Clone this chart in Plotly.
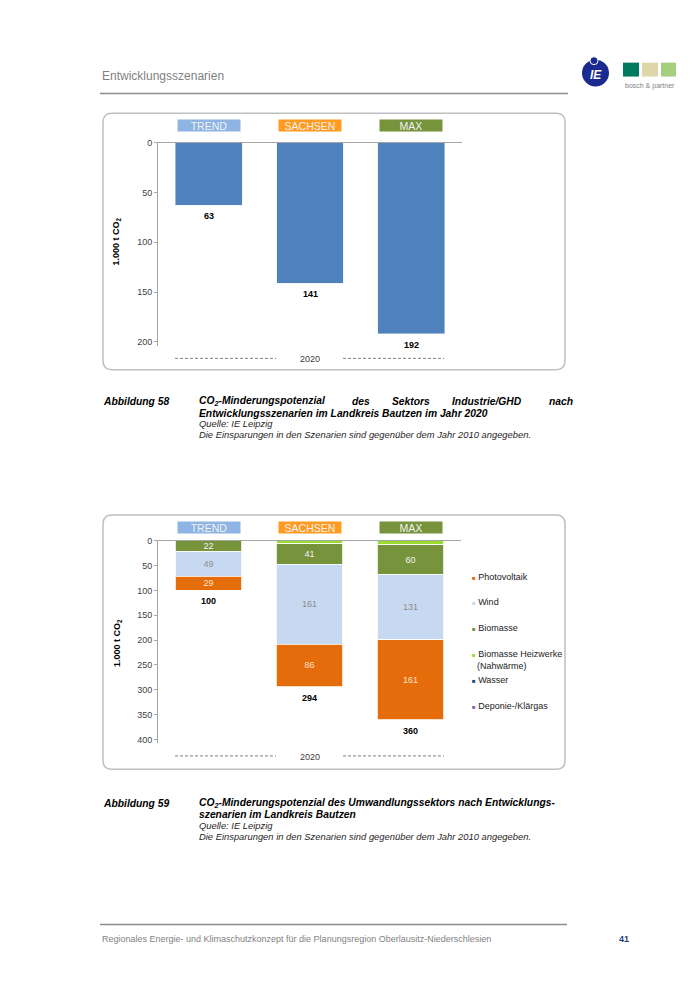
import plotly.graph_objects as go

W, H = 700, 988
FONT = "Liberation Sans"

# ---------------- data ----------------
scenarios = ["TREND", "SACHSEN", "MAX"]
scenario_colors = ["#8DB4E2", "#FF9B21", "#77933C"]
year_label = "2020"

# Chart 1: Industrie/GHD
industrie_values = [63, 141, 192]
chart1_ticks = [0, 50, 100, 150, 200]

# Chart 2: Umwandlungssektor (stack order from 0 downwards)
series_names = ["Deponie-/Klärgas", "Wasser", "Biomasse Heizwerke<br>(Nahwärme)",
                "Biomasse", "Wind", "Photovoltaik"]
series_values = {
    "Deponie-/Klärgas": [0, 0, 0],
    "Wasser": [0, 0, 0],
    "Biomasse Heizwerke<br>(Nahwärme)": [0, 6, 8],
    "Biomasse": [22, 41, 60],
    "Wind": [49, 161, 131],
    "Photovoltaik": [29, 86, 161],
}
series_colors = {
    "Deponie-/Klärgas": "#8064A2",
    "Wasser": "#1F497D",
    "Biomasse Heizwerke<br>(Nahwärme)": "#9BDB2E",
    "Biomasse": "#77933C",
    "Wind": "#C6D9F1",
    "Photovoltaik": "#E46C0A",
}
series_textcolor = {
    "Biomasse": "#F2F2F2",
    "Wind": "#8C8C8C",
    "Photovoltaik": "#FBE3CC",
}
umwandlung_totals = [100, 294, 360]
chart2_ticks = [0, 50, 100, 150, 200, 250, 300, 350, 400]


def px(x):
    return x / W


def py(y):
    return 1 - y / H


fig = go.Figure()

# ---- chart 1 bars
fig.add_trace(go.Bar(x=scenarios, y=industrie_values, marker_color="#4F81BD",
                     width=0.66, showlegend=False, xaxis="x", yaxis="y",
                     hoverinfo="skip"))

# ---- chart 2 stacked bars
for name in series_names:
    vals = series_values[name]
    tc = series_textcolor.get(name)
    if tc:
        kw = dict(text=[str(v) for v in vals], textposition="inside",
                  insidetextanchor="middle",
                  textfont=dict(color=tc, size=9, family=FONT),
                  constraintext="none")
    else:
        kw = dict(textposition="none")
    fig.add_trace(go.Bar(
        x=scenarios, y=vals, name=name, marker_color=series_colors[name],
        marker_line=dict(color="white", width=0.8),
        width=0.66, showlegend=False, xaxis="x2", yaxis="y2",
        hoverinfo="skip", **kw))

axis_line = "#A6A6A6"
tickfont = dict(family=FONT, size=9, color="#404040")

fig.update_layout(
    width=W, height=H, margin=dict(l=0, r=0, t=0, b=0),
    paper_bgcolor="white", plot_bgcolor="rgba(0,0,0,0)",
    barmode="stack", font=dict(family=FONT),
    xaxis=dict(domain=[px(158), px(462)], anchor="y", side="top",
               showticklabels=False, showline=True, linecolor=axis_line,
               ticks="", showgrid=False, range=[-0.5, 2.5],
               categoryorder="array", categoryarray=scenarios),
    yaxis=dict(domain=[py(343), py(138.5)], anchor="x", range=[204, 0],
               tickvals=chart1_ticks, ticks="outside", ticklen=3,
               tickcolor=axis_line, showline=True, linecolor=axis_line,
               showgrid=False, zeroline=False, tickfont=tickfont),
    xaxis2=dict(domain=[px(158), px(461)], anchor="y2", side="top",
                showticklabels=False, showline=True, linecolor=axis_line,
                ticks="", showgrid=False, range=[-0.5, 2.5],
                categoryorder="array", categoryarray=scenarios),
    yaxis2=dict(domain=[py(743), py(539)], anchor="x2", range=[408, 0],
                tickvals=chart2_ticks, ticks="outside", ticklen=3,
                tickcolor=axis_line, showline=True, linecolor=axis_line,
                showgrid=False, zeroline=False, tickfont=tickfont),
)

ann = []
shapes = []


def text(x, y, s, size=10, color="#000", anchor="left", yanchor="middle", **kw):
    ann.append(dict(x=px(x), y=py(y), xref="paper", yref="paper", text=s,
                    showarrow=False, xanchor=anchor, yanchor=yanchor,
                    font=dict(family=FONT, size=size, color=color), **kw))


def rounded_box(x0, y0, x1, y1, r=9, color="#BFBFBF"):
    X0, X1 = px(x0), px(x1)
    Y0, Y1 = py(y0), py(y1)
    rx, ry = r / W, r / H
    path = (f"M{X0+rx},{Y0} L{X1-rx},{Y0} Q{X1},{Y0} {X1},{Y0-ry} "
            f"L{X1},{Y1+ry} Q{X1},{Y1} {X1-rx},{Y1} L{X0+rx},{Y1} "
            f"Q{X0},{Y1} {X0},{Y1+ry} L{X0},{Y0-ry} Q{X0},{Y0} {X0+rx},{Y0} Z")
    shapes.append(dict(type="path", path=path, xref="paper", yref="paper",
                       line=dict(color=color, width=1.5), layer="below"))


def hline(x0, x1, y, color, width=1, dash=None):
    shapes.append(dict(type="line", x0=px(x0), x1=px(x1), y0=py(y), y1=py(y),
                       xref="paper", yref="paper",
                       line=dict(color=color, width=width, dash=dash)))


# ---- page header
text(100, 71, "Entwicklungsszenarien", size=12, color="#7F7F7F")
hline(100, 568, 89, "#8C8C8C", width=1.5)
# IE logo
shapes.append(dict(type="circle", xref="paper", yref="paper",
                   x0=px(583), x1=px(608), y0=py(56), y1=py(81),
                   fillcolor="#1B2A8F", line=dict(color="#1B2A8F")))
shapes.append(dict(type="circle", xref="paper", yref="paper",
                   x0=px(590), x1=px(598), y0=py(52), y1=py(60),
                   fillcolor="#1B2A8F", line=dict(color="white", width=1)))
text(595.5, 70, "<b><i>IE</i></b>", size=12, color="white", anchor="center")
# bosch & partner
for (x0, x1, c) in [(623, 639, "#007A5E"), (642, 658, "#DDD6A8"), (661, 676, "#A4CF7E")]:
    shapes.append(dict(type="rect", xref="paper", yref="paper",
                       x0=px(x0), x1=px(x1), y0=py(58), y1=py(72),
                       fillcolor=c, line=dict(width=0)))
text(623, 81, "bosch &amp; partner", size=7, color="#7F7F7F")

# ---- chart boxes
rounded_box(103, 109, 565, 367)
rounded_box(103, 513, 565, 769)

# ---- scenario headers
for xr, ypos in [("x", 121), ("x2", 525.5)]:
    for s, c in zip(scenarios, scenario_colors):
        ann.append(dict(x=s, y=py(ypos), xref=xr, yref="paper", text=s,
                        showarrow=False, bgcolor=c, width=62, height=11,
                        font=dict(family=FONT, size=10.5, color="#F2F2F2"),
                        xanchor="center", yanchor="middle", borderpad=0))

# ---- totals under bars
for s, v in zip(scenarios, industrie_values):
    ann.append(dict(x=s, y=v, xref="x", yref="y", text=f"<b>{v}</b>",
                    showarrow=False, yanchor="middle", yshift=-11,
                    font=dict(family=FONT, size=9, color="#000")))
for s, v in zip(scenarios, umwandlung_totals):
    ann.append(dict(x=s, y=v, xref="x2", yref="y2", text=f"<b>{v}</b>",
                    showarrow=False, yanchor="middle", yshift=-11,
                    font=dict(family=FONT, size=9, color="#000")))

# ---- y titles
for ytitle in [238, 642]:
    ann.append(dict(x=px(117), y=py(ytitle), xref="paper", yref="paper",
                    text="<b>1.000 t CO<sub>2</sub></b>", textangle=-90,
                    showarrow=False, xanchor="center", yanchor="middle",
                    font=dict(family=FONT, size=9, color="#000")))

# ---- year label + dashed lines
for ylab in [356.5, 756.5]:
    text(310, ylab, year_label, size=9, color="#404040", anchor="center")
    hline(175, 276, ylab - 1, "#7F7F7F", width=1, dash="3px,2px")
    hline(343, 444, ylab - 1, "#7F7F7F", width=1, dash="3px,2px")

# ---- legend chart 2
legend_order = ["Photovoltaik", "Wind", "Biomasse",
                "Biomasse Heizwerke<br>(Nahwärme)", "Wasser", "Deponie-/Klärgas"]
legend_y = [575, 600.5, 626.5, 658.5, 679, 705.5]
for name, ly in zip(legend_order, legend_y):
    lab = name.replace("<br>", "<br>  ")
    ann.append(dict(x=px(470), y=py(ly), xref="paper", yref="paper",
                    text=f"<span style='color:{series_colors[name]};font-size:6px'>■</span> {lab}",
                    showarrow=False, xanchor="left", yanchor="middle", align="left",
                    font=dict(family=FONT, size=9, color="#1A1A1A")))


# ---- captions
def caption(y0, num, line1_words, line2, dy=(11.5, 22.5, 33.5)):
    text(101, y0, f"<b><i>Abbildung {num}</i></b>", size=10.3)
    for w, x in line1_words:
        text(x, y0, f"<b><i>{w}</i></b>", size=10.3,
             anchor="right" if x > 560 else "left")
    text(197, y0 + dy[0], f"<b><i>{line2}</i></b>", size=10.3)
    text(197, y0 + dy[1], "<i>Quelle: IE Leipzig</i>", size=9.4, color="#262626")
    text(197, y0 + dy[2], "<i>Die Einsparungen in den Szenarien sind gegenüber dem Jahr 2010 angegeben.</i>",
         size=9.4, color="#262626")


caption(399, 58,
        [("CO<sub>2</sub>-Minderungspotenzial", 197), ("des", 350), ("Sektors", 390),
         ("Industrie/GHD", 450), ("nach", 575)],
        "Entwicklungsszenarien im Landkreis Bautzen im Jahr 2020")
caption(803, 59,
        [("CO<sub>2</sub>-Minderungspotenzial des Umwandlungssektors nach Entwicklungs-", 197)],
        "szenarien im Landkreis Bautzen")

# ---- footer
hline(100, 567, 925, "#8C8C8C", width=1.5)
text(100, 940, "Regionales Energie- und Klimaschutzkonzept für die Planungsregion Oberlausitz-Niederschlesien",
     size=9, color="#7F7F7F")
text(617, 940, "<b>41</b>", size=9, color="#1F3D7A")

fig.update_layout(annotations=ann, shapes=shapes)

post = ("document.body.style.margin='0';document.body.style.overflow='hidden';"
        "var gd=document.getElementById('{plot_id}');"
        "gd.style.position='fixed';gd.style.left='0px';gd.style.top='0px';")
fig.write_html("out.html", post_script=post, config={"displayModeBar": False})
